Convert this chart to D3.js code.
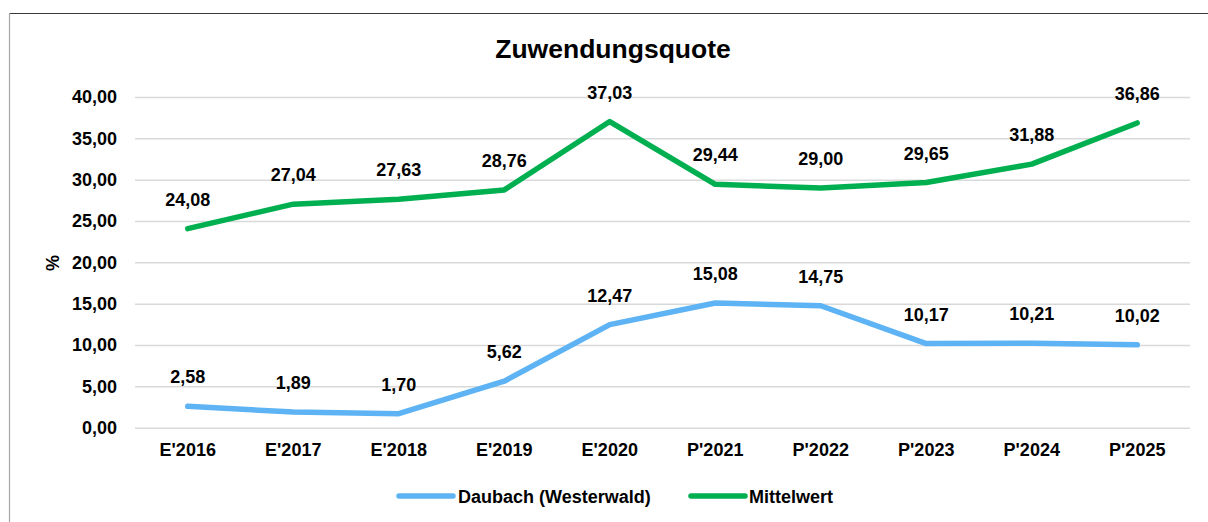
<!DOCTYPE html>
<html>
<head>
<meta charset="utf-8">
<script src="https://cdn.jsdelivr.net/npm/d3@7"></script>
<style>
  body { margin: 0; background: #fff; }
  svg { display: block; font-family: "Liberation Sans", Arial, sans-serif; font-weight: bold; }
</style>
</head>
<body>
<div id="chart"></div>
<script>
const categories = ["E'2016", "E'2017", "E'2018", "E'2019", "E'2020", "P'2021", "P'2022", "P'2023", "P'2024", "P'2025"]
const daubach = [2.58, 1.89, 1.70, 5.62, 12.47, 15.08, 14.75, 10.17, 10.21, 10.02]
const mittelwert = [24.08, 27.04, 27.63, 28.76, 37.03, 29.44, 29.00, 29.65, 31.88, 36.86]
const yTicks = [0, 5, 10, 15, 20, 25, 30, 35, 40]
const seriesNames = ["Daubach (Westerwald)", "Mittelwert"]

const width = 1208
const height = 522
const plotLeft = 135, plotRight = 1190, plotTop = 97, plotBottom = 427.7

const colors = { blue: "#5db3f3", green: "#00b050" }

const svg = d3.select("#chart")
    .append("svg")
    .attr("width", width)
    .attr("height", height)

// frame (only top and left edges fall inside the picture)
svg.append("line").attr("x1", 9).attr("x2", width).attr("y1", 13.5).attr("y2", 13.5)
    .attr("stroke", "#3a3a3a").attr("stroke-width", 1.2)
svg.append("line").attr("x1", 9.5).attr("x2", 9.5).attr("y1", 13).attr("y2", height)
    .attr("stroke", "#a6a6a6").attr("stroke-width", 1.2)

const x = d3.scaleBand().domain(categories).range([plotLeft, plotRight])
const y = d3.scaleLinear().domain([0, 40]).range([plotBottom, plotTop])

const fmt = v => d3.format(".2f")(v).replace(".", ",")

// gridlines + y labels
const yAxis = d3.axisLeft(y).tickValues(yTicks).tickSize(-(plotRight - plotLeft)).tickPadding(18).tickFormat(fmt)
const gy = svg.append("g").attr("transform", `translate(${plotLeft},0)`).call(yAxis)
gy.select(".domain").remove()
gy.selectAll(".tick line").attr("stroke", "#d9d9d9").attr("stroke-width", 1.5)
gy.selectAll(".tick text").attr("font-size", 18).attr("font-family", "Liberation Sans, Arial, sans-serif")
    .attr("font-weight", "bold").attr("fill", "#000")

// x labels
const xAxis = d3.axisBottom(x).tickSize(0).tickPadding(16)
const gx = svg.append("g").attr("transform", `translate(0,${plotBottom})`).call(xAxis)
gx.select(".domain").remove()
gx.selectAll(".tick text").attr("font-size", 18).attr("font-family", "Liberation Sans, Arial, sans-serif")
    .attr("font-weight", "bold").attr("fill", "#000")

// title
svg.append("text")
    .attr("x", 613).attr("y", 57.5)
    .attr("text-anchor", "middle")
    .attr("font-size", 26.5)
    .text("Zuwendungsquote")

// y axis title
svg.append("text")
    .attr("transform", "translate(59,263) rotate(-90)")
    .attr("text-anchor", "middle")
    .attr("font-size", 18)
    .text("%")

const cx = d => x(d) + x.bandwidth() / 2
const line = d3.line()
    .x((d, i) => cx(categories[i]))
    .y(d => y(d))

const series = [
    { name: seriesNames[0], values: daubach, color: colors.blue },
    { name: seriesNames[1], values: mittelwert, color: colors.green }
]

series.forEach(s => {
    svg.append("path")
        .datum(s.values)
        .attr("d", line)
        .attr("fill", "none")
        .attr("stroke", s.color)
        .attr("stroke-width", 5.5)
        .attr("stroke-linecap", "round")
        .attr("stroke-linejoin", "round")

    // data labels
    svg.append("g").selectAll("text")
        .data(s.values)
        .enter().append("text")
        .attr("x", (d, i) => cx(categories[i]))
        .attr("y", d => y(d) - 23)
        .attr("text-anchor", "middle")
        .attr("font-size", 18)
        .text(d => fmt(d))
})

// legend
const legend = [
    { name: seriesNames[0], color: colors.blue, x0: 399, x1: 453, tx: 458 },
    { name: seriesNames[1], color: colors.green, x0: 691, x1: 745, tx: 749 }
]
legend.forEach(l => {
    svg.append("line")
        .attr("x1", l.x0).attr("x2", l.x1).attr("y1", 496).attr("y2", 496)
        .attr("stroke", l.color).attr("stroke-width", 5.5).attr("stroke-linecap", "round")
    svg.append("text")
        .attr("x", l.tx).attr("y", 502.5)
        .attr("font-size", 18)
        .text(l.name)
})
</script>
</body>
</html>
